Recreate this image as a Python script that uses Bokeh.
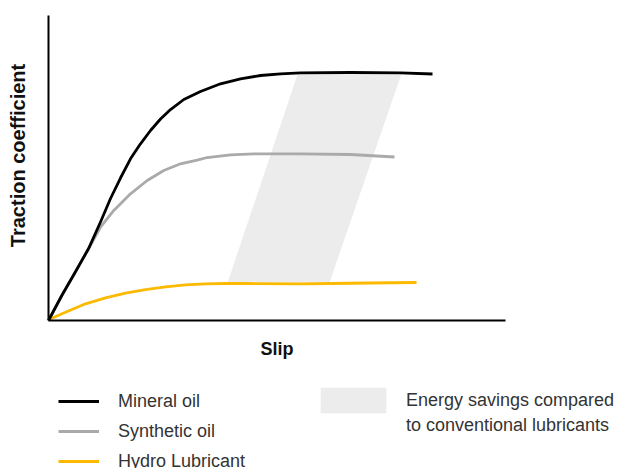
from bokeh.plotting import figure
from bokeh.models import Legend, LegendItem, FixedTicker, Range1d, LinearAxis
from bokeh.embed import file_html
from bokeh.resources import INLINE

# Schematic data (arbitrary units, axes run 0-100)
mineral_x = [0, 2.91, 5.84, 8.75, 11.38, 13.57, 15.75, 17.94, 20.13, 22.32, 24.51, 26.70, 29.61,
             33.26, 37.64, 42.01, 46.39, 50.77, 55.14, 66.08, 77.02, 84.03]
mineral_y = [0, 8.20, 15.84, 23.51, 32.30, 40.00, 46.72, 53.02, 57.93, 62.30, 66.07, 69.18, 72.46,
             75.08, 77.61, 79.25, 80.33, 80.89, 81.21, 81.31, 81.21, 80.82]

synthetic_x = [0, 2.91, 5.84, 8.75, 11.38, 14.29, 17.94, 21.60, 25.23, 28.88, 32.54, 34.73,
               39.82, 44.92, 55.14, 66.08, 75.71]
synthetic_y = [0, 8.20, 15.84, 23.51, 30.59, 36.07, 41.54, 45.90, 49.18, 51.38, 52.62, 53.44,
               54.33, 54.66, 54.66, 54.43, 53.61]

hydro_x = [0, 0.44, 3.72, 8.10, 12.47, 16.85, 21.23, 25.60, 29.98, 34.35, 38.73, 43.11, 55.14,
           61.71, 70.46, 80.53]
hydro_y = [0, 0.56, 2.72, 5.48, 7.44, 8.95, 10.16, 11.05, 11.70, 12.03, 12.13, 12.13, 12.03,
           12.13, 12.30, 12.46]

savings_x = [39.2, 61.5, 77.2, 54.5]
savings_y = [12.5, 12.5, 80.7, 80.7]

labels = ["Mineral oil", "Synthetic oil", "Hydro Lubricant",
          "Energy savings compared", "to conventional lubricants"]
x_title = "Slip"
y_title = "Traction coefficient"

p = figure(width=630, height=468, output_backend="svg", toolbar_location=None,
           x_range=Range1d(-10.503, 127.35), y_range=Range1d(-48.52, 104.92),
           x_axis_location=None, y_axis_location=None,
           min_border=0)
p.outline_line_color = None
p.grid.visible = False


def style_axis(ax, size):
    ax.ticker = FixedTicker(ticks=[])
    ax.major_tick_line_color = None
    ax.minor_tick_line_color = None
    ax.major_label_text_font_size = "0px"
    ax.major_label_standoff = 0
    ax.major_tick_out = 0
    ax.axis_line_width = 2
    ax.axis_line_color = "black"
    ax.axis_label_text_font = "Liberation Sans"
    ax.axis_label_text_font_style = "bold"
    ax.axis_label_text_color = "#111111"
    ax.axis_label_text_font_size = size


xaxis = LinearAxis(fixed_location=0, bounds=(0, 100), axis_label=x_title)
style_axis(xaxis, "18px")
xaxis.axis_label_standoff = 18
p.add_layout(xaxis, "below")

yaxis = LinearAxis(fixed_location=0, bounds=(0, 100))
style_axis(yaxis, "20px")
p.add_layout(yaxis, "left")

# title-carrying axis (no line), centred slightly above the axis middle as in the original
ytitle_axis = LinearAxis(fixed_location=0, bounds=(8.2, 100), axis_label=y_title)
style_axis(ytitle_axis, "20px")
ytitle_axis.axis_line_color = None
ytitle_axis.axis_label_standoff = 20
p.add_layout(ytitle_axis, "left")

r_sav = p.patch(savings_x, savings_y, fill_color="#ececec", line_color=None)
r_syn = p.line(synthetic_x, synthetic_y, line_color="#aaaaaa", line_width=2.8, line_join="round")
r_hyd = p.line(hydro_x, hydro_y, line_color="#fbb900", line_width=2.8, line_join="round")
r_min = p.line(mineral_x, mineral_y, line_color="black", line_width=2.8, line_join="round")

common = dict(border_line_color=None, background_fill_alpha=0, padding=0, margin=0,
              label_text_font="Liberation Sans", label_text_font_size="18px",
              label_text_color="#333333")

leg1 = Legend(items=[LegendItem(label=labels[0], renderers=[r_min]),
                     LegendItem(label=labels[1], renderers=[r_syn]),
                     LegendItem(label=labels[2], renderers=[r_hyd])],
              location=(58, -3.5), glyph_width=41, glyph_height=20, label_height=20,
              spacing=9, label_standoff=19, **common)
leg2 = Legend(items=[LegendItem(label=labels[3], renderers=[r_sav])],
              location=(312, 52), glyph_width=82, glyph_height=32, label_height=20,
              label_standoff=12, **common)
leg3 = Legend(items=[LegendItem(label=labels[4], renderers=[])],
              location=(312, 32), glyph_width=82, glyph_height=20, label_height=20,
              label_standoff=12, **common)
p.add_layout(leg1, "center")
p.add_layout(leg2, "center")
p.add_layout(leg3, "center")

open("out.html", "w").write(file_html(p, INLINE))
